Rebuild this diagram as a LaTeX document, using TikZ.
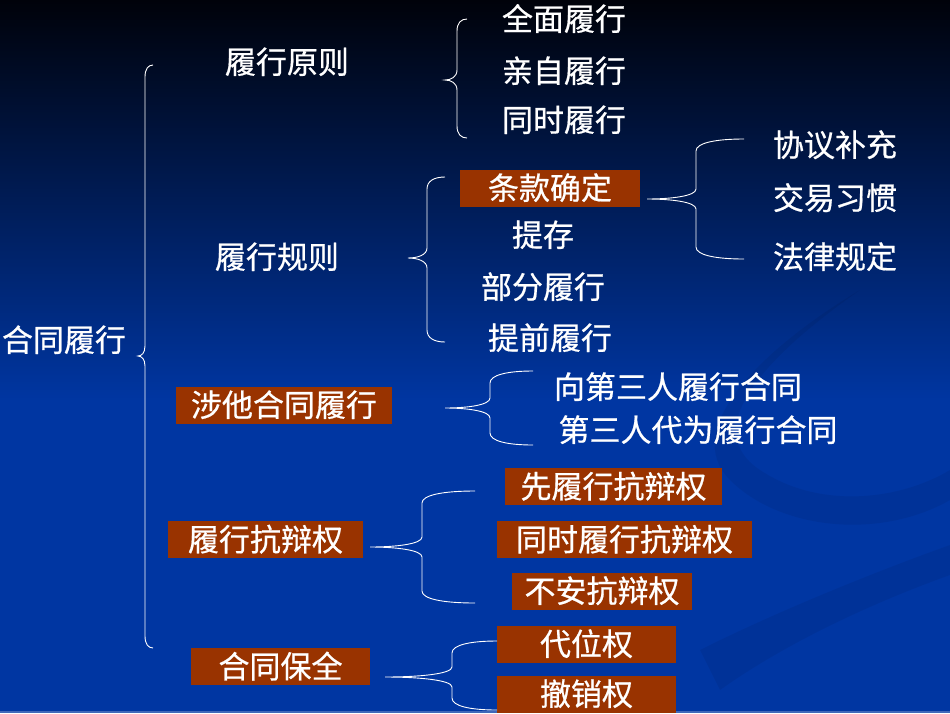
\documentclass[tikz,border=0pt]{standalone}
\usepackage{fontspec}
\setmainfont{Noto Sans CJK SC}
\newfontfamily\heiti[FakeBold=0.6]{Noto Sans CJK SC}
\usetikzlibrary{calc}
\definecolor{zhuan}{HTML}{993300}
\definecolor{ditop}{HTML}{00020A}
\definecolor{dimid}{HTML}{031A58}
\definecolor{dibot}{HTML}{0036A2}
% #1 tip, #2 upper end, #3 lower end, #4 x of the upright
\newcommand{\kuohao}[4]{%
  \draw[kuo] let \p1=(#1), \p2=(#2), \p3=(#3) in
    (\p2) .. controls ({0.4*\x2+0.6*#4pt},\y2) and (#4pt,\y2-4pt) .. (#4pt,\y2-12pt)
    -- (#4pt,\y1+10pt) .. controls (#4pt,\y1+3pt) and ({0.5*\x1+0.5*#4pt},\y1) .. (\p1)
    .. controls ({0.5*\x1+0.5*#4pt},\y1) and (#4pt,\y1-3pt) .. (#4pt,\y1-10pt)
    -- (#4pt,\y3+12pt) .. controls (#4pt,\y3+4pt) and ({0.4*\x3+0.6*#4pt},\y3) .. (\p3);}
\begin{document}
\begin{tikzpicture}[x=1pt,y=-1pt,
    zi/.style={text=white,font=\heiti\fontsize{31}{36}\selectfont,inner sep=0pt,
      text height=24pt,text depth=1pt},
    hezi/.style={zi,fill=zhuan,minimum height=37pt},
    kuo/.style={draw=white,line width=0.9pt}]
    \useasboundingbox (0,0) rectangle (950,713);
    \shade[top color=ditop,middle color=dimid,bottom color=dibot] (0,0) rectangle (950,401);
    \fill[dibot] (0,400) rectangle (950,713);
    % swooshes
    \fill[black,opacity=0.06] (860,290) .. controls (760,360) and (700,430) .. (760,470)
        .. controls (820,510) and (900,500) .. (950,470) -- (950,500)
        .. controls (880,540) and (780,530) .. (730,480) .. controls (680,430) and (760,350) .. cycle;
    \fill[black,opacity=0.06] (700,650) .. controls (780,610) and (880,570) .. (950,545)
        -- (950,575) .. controls (880,600) and (790,640) .. (720,690) -- cycle;
    \fill[white,opacity=0.25] (0,711) rectangle (950,713);

    \node[zi] (hetong) at (64,340) {合同履行};
    \node[zi] (yuanze) at (287,62) {履行原则};
    \node[zi] (guize) at (277,257) {履行规则};
    \node[hezi,minimum width=216pt] (sheta) at (284,405) {涉他合同履行};
    \node[hezi,minimum width=195pt] (kangbian) at (265.5,539.5) {履行抗辩权};
    \node[hezi,minimum width=179pt] (baoquan) at (280.5,666.5) {合同保全};

    \node[zi] (quanmian) at (564,19) {全面履行};
    \node[zi] (qinzi) at (564,71) {亲自履行};
    \node[zi] (tongshi) at (564,120) {同时履行};

    \node[hezi,minimum width=180pt] (tiaokuan) at (550,188) {条款确定};
    \node[zi] (ticun) at (543,235) {提存};
    \node[zi] (bufen) at (543,287) {部分履行};
    \node[zi] (tiqian) at (550,338) {提前履行};

    \node[zi] (xieyi) at (835,145) {协议补充};
    \node[zi] (jiaoyi) at (835,198) {交易习惯};
    \node[zi] (falv) at (835,257) {法律规定};

    \node[zi] (xiang) at (678,387) {向第三人履行合同};
    \node[zi] (daiwei) at (698,430) {第三人代为履行合同};

    \node[hezi,minimum width=217pt] (xian) at (613.5,486.5) {先履行抗辩权};
    \node[hezi,minimum width=255pt] (tongshikb) at (624.5,539.5) {同时履行抗辩权};
    \node[hezi,minimum width=180pt] (buan) at (602,591) {不安抗辩权};

    \node[hezi,minimum width=179pt] (daiweiquan) at (586.5,644) {代位权};
    \node[hezi,minimum width=179pt] (chexiao) at (586.5,694) {撤销权};

    \coordinate (zong-jian) at (138,356); \coordinate (zong-shang) at (153,65); \coordinate (zong-xia) at (153,648);
    \coordinate (yz-jian) at (445,80); \coordinate (yz-shang) at (467,19); \coordinate (yz-xia) at (467,138);
    \coordinate (gz-jian) at (408,258); \coordinate (gz-shang) at (445,177); \coordinate (gz-xia) at (445,342);
    \coordinate (tk-jian) at (647,199); \coordinate (tk-shang) at (744,139); \coordinate (tk-xia) at (744,259);
    \coordinate (st-jian) at (445,408); \coordinate (st-shang) at (533,371); \coordinate (st-xia) at (533,445);
    \coordinate (kb-jian) at (370,547); \coordinate (kb-shang) at (475,491); \coordinate (kb-xia) at (475,603);
    \coordinate (bq-jian) at (385,677); \coordinate (bq-shang) at (497,641); \coordinate (bq-xia) at (497,710);

    \kuohao{zong-jian}{zong-shang}{zong-xia}{145}
    \kuohao{yz-jian}{yz-shang}{yz-xia}{457}
    \kuohao{gz-jian}{gz-shang}{gz-xia}{427}
    \kuohao{tk-jian}{tk-shang}{tk-xia}{696}
    \kuohao{st-jian}{st-shang}{st-xia}{490}
    \kuohao{kb-jian}{kb-shang}{kb-xia}{422}
    \kuohao{bq-jian}{bq-shang}{bq-xia}{452}
\end{tikzpicture}
\end{document}
